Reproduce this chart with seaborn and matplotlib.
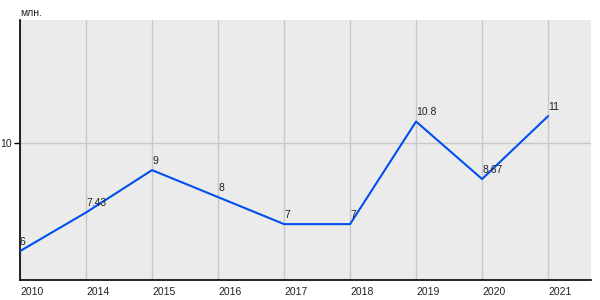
import matplotlib
matplotlib.use("Agg")
import matplotlib.pyplot as plt
import seaborn as sns
import pandas as pd

years = ["2010", "2014", "2015", "2016", "2017", "2018", "2019", "2020", "2021"]
values = [6, 7.43, 9, 8, 7, 7, 10.8, 8.67, 11]
labels = ["6", "7.43", "9", "8", "7", "7", "10.8", "8.67", "11"]
unit = "млн."

sns.set_theme(style="white")
plt.rcParams['font.family'] = ['Liberation Sans', 'DejaVu Sans']

df = pd.DataFrame({"year": years, "value": values, "pos": range(len(years))})

fig = plt.figure(figsize=(6, 3), dpi=100)
ax = fig.add_axes([20/600, 20/300, 571/600, 260/300])
ax.set_facecolor("#EBEBEB")

sns.lineplot(data=df, x="pos", y="value", ax=ax, color="#0050F0", linewidth=1.5, zorder=3)

ax.set_xlim(0, 8.65)
ax.set_ylim(4.93, 14.56)
ax.set_xticks(df["pos"])
ax.set_xticklabels(years, ha="left", fontsize=7.5, color="#222222")
ax.set_yticks([10])
ax.set_yticklabels(["10"], fontsize=7.5, color="#222222")
ax.grid(True, color="#C8C8C8", linewidth=1)
ax.set_axisbelow(True)
ax.tick_params(axis="x", length=0, pad=5)
ax.tick_params(axis="y", length=4, width=1, color="black", pad=2, direction="out", left=True)
ax.set_xlabel("")
ax.set_ylabel("")

for s in ["top", "right"]:
    ax.spines[s].set_visible(False)
for s in ["left", "bottom"]:
    ax.spines[s].set_color("black")
    ax.spines[s].set_linewidth(1.2)

for p, v, t in zip(df["pos"], values, labels):
    ax.annotate(t, (p, v), xytext=(0, 3), textcoords="offset points",
                ha="left", va="bottom", fontsize=7.5, color="#222222", zorder=4)

fig.text(20/600, 1 - 13/300, unit, fontsize=7.5, ha="left", va="center", color="#222222")

fig.savefig("out.png", dpi=100)
